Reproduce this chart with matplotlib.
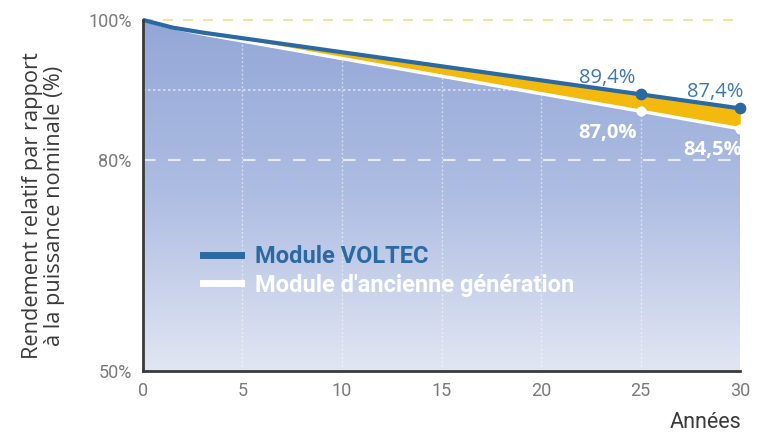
import numpy as np
import matplotlib
matplotlib.use("Agg")
import matplotlib.pyplot as plt
from matplotlib.colors import LinearSegmentedColormap
from matplotlib.lines import Line2D

# data
years = [0, 1.5, 3, 25, 30]
voltec = [100, 98.9, 98.2, 89.4, 87.4]
ancienne = [100, 98.9, 98.0, 87.0, 84.5]
mark_years = [25, 30]
voltec_labels = ["89,4%", "87,4%"]
ancienne_labels = ["87,0%", "84,5%"]
xticks = [0, 5, 10, 15, 20, 25, 30]
yticks = [50, 80, 100]
ytick_labels = ["50%", "80%", "100%"]

BLUE = "#2b69a3"
LBLUE = "#3d78ad"
YELLOW = "#f3b90c"
GREY = "#7a7a7a"
DARK = "#3a3a3a"
NARROW = ["Roboto", "DejaVu Sans"]
WIDE = ["Open Sans", "DejaVu Sans"]

fig = plt.figure(figsize=(7.6, 4.33), dpi=100)
ax = fig.add_axes([0.188, 0.143, 0.786, 0.811])
ax.set_xlim(0, 30)
ax.set_ylim(50, 100)

# gradient under the old-generation curve
cmap = LinearSegmentedColormap.from_list("bg", ["#e2e6f3", "#aebde2", "#93a7d7"])
grad = np.linspace(0, 1, 256).reshape(-1, 1)
img = ax.imshow(grad, extent=[0, 30, 50, 100], origin="lower", aspect="auto",
                cmap=cmap, zorder=1)
poly = ax.fill_between(years, 50, ancienne, color="none", zorder=0)
img.set_clip_path(poly.get_paths()[0], transform=ax.transData)

# gain band
ax.fill_between(years, ancienne, voltec, color=YELLOW, lw=0, zorder=2)

# grid
for x in xticks[1:-1]:
    ax.plot([x, x], [50, 100], color="white", lw=1, ls=(0, (1.5, 1.5)), alpha=0.5, zorder=1.5)
ax.axhline(90, color="white", lw=1.2, ls=(0, (1.5, 1.5)), alpha=0.6, zorder=1.5)
ax.axhline(80, color="white", lw=1.5, ls=(0, (6, 6)), alpha=0.7, zorder=1.5)
ax.axhline(100, color="#f2dc8a", lw=1.2, ls=(0, (6, 6)), zorder=1.5, clip_on=False)

ax.plot(years, ancienne, color="white", lw=2.5, zorder=3, solid_capstyle="butt")
ax.plot(years, voltec, color=BLUE, lw=3, zorder=4, clip_on=False, solid_capstyle="butt")
ax.scatter(mark_years, ancienne[-2:], s=40, color="white", zorder=5, clip_on=False)
ax.scatter(mark_years, voltec[-2:], s=55, color=BLUE, zorder=6, clip_on=False)

for x, y, t in zip(mark_years, voltec[-2:], voltec_labels):
    ax.annotate(t, (x, y), xytext=(-4 if x == 25 else 2, 8), textcoords="offset points",
                ha="right", color=LBLUE, fontsize=14.5, family=WIDE)
for x, y, t in zip(mark_years, ancienne[-2:], ancienne_labels):
    ax.annotate(t, (x, y), xytext=(-3 if x == 25 else 1, -19), textcoords="offset points",
                ha="right", color="white", fontsize=14.5, family=WIDE,
                fontweight="bold", zorder=7)

handles = [Line2D([], [], color=BLUE, lw=5), Line2D([], [], color="white", lw=5)]
leg = ax.legend(handles, ["Module VOLTEC", "Module d'ancienne génération"],
                loc="upper left", bbox_to_anchor=(0.065, 0.42), frameon=False,
                handlelength=1.6, handletextpad=0.6, labelspacing=0.25,
                prop={"family": NARROW, "size": 17, "weight": "bold"})
for t, c in zip(leg.get_texts(), [BLUE, "white"]):
    t.set_color(c)

for s in ["top", "right"]:
    ax.spines[s].set_visible(False)
for s in ["left", "bottom"]:
    ax.spines[s].set_color(DARK)
    ax.spines[s].set_linewidth(2)
ax.spines["left"].set_zorder(8)

ax.set_xticks(xticks)
ax.set_xticklabels([str(x) for x in xticks], family=NARROW, fontsize=13, color=GREY)
ax.set_yticks(yticks)
ax.set_yticklabels(ytick_labels, family=NARROW, fontsize=13, color=GREY)
ax.tick_params(length=0, pad=8)

ax.set_ylabel("Rendement relatif par rapport\nà la puissance nominale (%)", fontsize=15.7,
              color=DARK, linespacing=1.1, family=WIDE)
ax.yaxis.set_label_coords(-0.13, 0.47)
fig.text(0.975, 0.0, "Années", ha="right", va="bottom", fontsize=15.5, color=DARK, family=NARROW)

fig.savefig("out.png", dpi=100)
